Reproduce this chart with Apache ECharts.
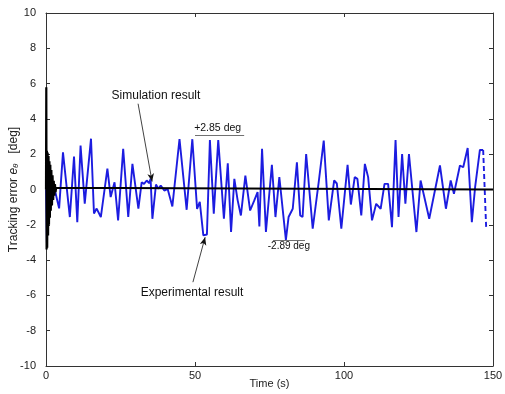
<!DOCTYPE html>
<html>
<head>
<meta charset="utf-8">
<script src="https://cdn.jsdelivr.net/npm/echarts@6/dist/echarts.min.js"></script>
<style>
    html, body {margin:0;padding:0;background:#ffffff;}
    #chart {width:505px;height:394px;}
</style>
</head>
<body>
<div id="chart"></div>
<script>
    var expTime = [0, 0.3, 0.7, 1.5, 2.3, 3.2, 4.4, 5.7, 8.0, 9.4, 10.5, 11.6, 13.0, 15.1, 16.1, 17.0, 18.4, 20.6, 21.7, 23.0,
        24.2, 25.9, 27.6, 29.0, 31.0, 32.1, 32.9, 33.8, 34.6, 35.1, 35.7, 36.9, 37.7, 38.5, 39.7, 40.8, 42.4, 44.8, 47.2, 49.1,
        50.7, 51.6, 52.8, 54.0, 55.0, 56.3, 57.8, 59.7, 61.0, 62.1, 63.2, 64.3, 65.4, 66.9, 68.5, 69.9, 71.0, 71.6, 72.5, 73.8,
        75.8, 77.0, 78.3, 80.5, 81.4, 82.8, 84.2, 85.3, 86.1, 87.3, 89.5, 91.5, 93.2, 94.9, 96.7, 97.6, 99.1, 101.2, 102.3, 103.6,
        104.5, 105.8, 107.0, 108.1, 109.4, 110.8, 112.3, 113.6, 114.8, 116.1, 117.3, 118.3, 119.5, 120.6, 121.8, 124.3, 125.7, 128.6, 132.2, 134.2,
        135.8, 136.9, 138.9, 140.0, 141.5, 142.9, 144.0, 145.6, 146.7];
    var expError = [0, -3.0, 1.1, -0.6, 0.3, -0.2, -1.07, 2.1, -1.56, 1.86, -1.85, 2.49, -0.8, 2.88, -1.36, -1.08, -1.56, 1.18, -0.43, 0.41,
        -1.75, 2.3, -1.56, 1.45, -1.09, 0.41, 0.32, 0.51, 0.36, 0.6, -1.66, 0.28, 0.04, 0.23, -0.06, 0.04, -0.96, 2.85, -1.15, 2.85,
        -1.1, -0.7, -2.6, -2.55, 2.8, -1.37, 2.8, -1.66, 1.49, -2.4, 0.6, -0.6, -1.47, 0.79, -1.19, -0.62, -0.15, -2.1, 2.3, -2.4,
        1.4, -1.56, 0.7, -2.85, -1.56, -1.09, 1.54, -1.47, -1.56, 2.01, -2.22, 0.41, 2.77, -1.75, 0.51, 0.34, -2.22, 1.4, -0.85, 0.7,
        0.6, -1.47, 1.45, 0.7, -1.75, -0.81, -1.09, 0.32, 0.32, -2.13, 2.8, -1.56, 2.01, -0.81, 2.01, -2.41, 0.51, -1.66, 1.36, -1.09,
        0.51, -0.24, 1.36, 1.26, 2.35, -1.85, 0.13, 2.24, 2.24];
    // dashed tail at the end of the record
    var tailTime = [146.7, 147.7];
    var tailError = [2.24, -2.13];

    // simulation result (black)
    var simTime = [0, 0.1, 0.2, 0.3, 0.4, 0.55, 0.7, 0.85, 1.0, 1.15, 1.3, 1.45, 1.6, 1.8, 2.0, 2.2, 2.4, 2.6, 2.8, 3.0, 3.2, 3.4, 3.6, 150];
    var simError = [0, 5.8, -3.4, 2.2, -3.3, 2.1, -2.6, 1.9, -2.0, 1.6, -1.6, 1.4, -1.2, 1.1, -0.9, 0.8, -0.6, 0.5, -0.35, 0.3, -0.15, 0.1, 0, 0];

    var xTicks = [0, 50, 100, 150];
    var yTicks = [-10, -8, -6, -4, -2, 0, 2, 4, 6, 8, 10];

    function pairs(xs, ys) {
        var out = [];
        for (var i = 0; i < xs.length; i++) out.push([xs[i], ys[i]]);
        return out;
    }

    var font = 'Liberation Sans, Arial, sans-serif';
    var axisCol = '#333333';
    var blue = '#1c1ce0';

    var myChart = echarts.init(document.getElementById('chart'), null, {renderer: 'canvas'});

    var axisCommon = {
        axisLine: {show: true, onZero: false, lineStyle: {color: axisCol, width: 1}},
        axisTick: {show: true, inside: true, length: 4, lineStyle: {color: axisCol}},
        splitLine: {show: false}
    };

    var arrow = function (a, b) {
        return [{coord: a}, {coord: b}];
    };

    var option = {
        animation: false,
        backgroundColor: '#ffffff',
        grid: {left: 46, right: 12, top: 13, bottom: 28, containLabel: false, outerBoundsMode: 'none'},
        xAxis: [
            Object.assign({
                type: 'value', min: xTicks[0], max: xTicks[xTicks.length - 1], interval: 50,
                name: 'Time (s)', nameLocation: 'middle', nameGap: 12, nameMoveOverlap: false,
                nameTextStyle: {fontFamily: font, fontSize: 11, color: '#222'},
                axisLabel: {fontFamily: font, fontSize: 11, color: '#222', margin: 4}
            }, axisCommon),
            Object.assign({
                type: 'value', position: 'top', min: 0, max: 150, interval: 50,
                axisLabel: {show: false}
            }, axisCommon)
        ],
        yAxis: [
            Object.assign({
                type: 'value', min: yTicks[0], max: yTicks[yTicks.length - 1], interval: 2,
                name: '{t|Tracking error }{e|e}{s|θ}{t|   [deg]}', nameLocation: 'middle', nameGap: 26, nameRotate: 90,
                nameMoveOverlap: false,
                nameTextStyle: {
                    fontFamily: font, fontSize: 12, color: '#222',
                    rich: {
                        t: {fontFamily: font, fontSize: 12, color: '#222'},
                        e: {fontFamily: font, fontSize: 12, fontStyle: 'italic', color: '#222'},
                        s: {fontFamily: font, fontSize: 8, fontStyle: 'italic', color: '#222', padding: [5, 0, 0, 0]}
                    }
                },
                axisLabel: {fontFamily: font, fontSize: 11, color: '#222', margin: 10}
            }, axisCommon),
            Object.assign({
                type: 'value', position: 'right', min: -10, max: 10, interval: 2,
                axisLabel: {show: false}
            }, axisCommon)
        ],
        series: [
            {
                name: 'Experimental result', type: 'line', data: pairs(expTime, expError),
                showSymbol: false, symbol: 'none', z: 2,
                lineStyle: {color: blue, width: 1.9}
            },
            {
                name: 'tail', type: 'line', data: pairs(tailTime, tailError),
                showSymbol: false, symbol: 'none', z: 2,
                lineStyle: {color: blue, width: 1.9, type: [5, 3]}
            },
            {
                name: 'Simulation result', type: 'line', data: pairs(simTime, simError),
                showSymbol: false, symbol: 'none', z: 3,
                lineStyle: {color: '#000000', width: 2.2},
                markLine: {
                    silent: true, symbol: ['none', 'arrow'], symbolSize: [5, 8],
                    label: {show: false},
                    lineStyle: {color: '#111', width: 0.8, type: 'solid'},
                    data: [
                        arrow([30.9, 4.86], [35.6, 0.45]),
                        arrow([49.3, -5.25], [53.4, -2.7])
                    ]
                },
                markPoint: {
                    silent: true, symbol: 'circle', symbolSize: 0,
                    label: {show: true, position: 'inside', fontFamily: font, fontSize: 12, color: '#111'},
                    data: [
                        {coord: [36.9, 5.3], label: {formatter: 'Simulation result'}},
                        {coord: [49.0, -5.85], label: {formatter: 'Experimental result'}},
                        {coord: [57.6, 3.45], label: {formatter: '+2.85 deg', fontSize: 10.5}},
                        {coord: [81.5, -3.2], label: {formatter: '-2.89 deg', fontSize: 10}}
                    ]
                }
            },
            {
                // underline / overline of the peak labels
                name: 'marks', type: 'line', data: [],
                markLine: {
                    silent: true, symbol: ['none', 'none'], label: {show: false},
                    lineStyle: {color: '#333', width: 0.7, type: 'solid'},
                    data: [
                        arrow([50.0, 3.05], [66.5, 3.05]),
                        arrow([76.2, -2.88], [86.9, -2.88])
                    ]
                }
            }
        ]
    };

    myChart.setOption(option, true);
</script>
</body>
</html>
